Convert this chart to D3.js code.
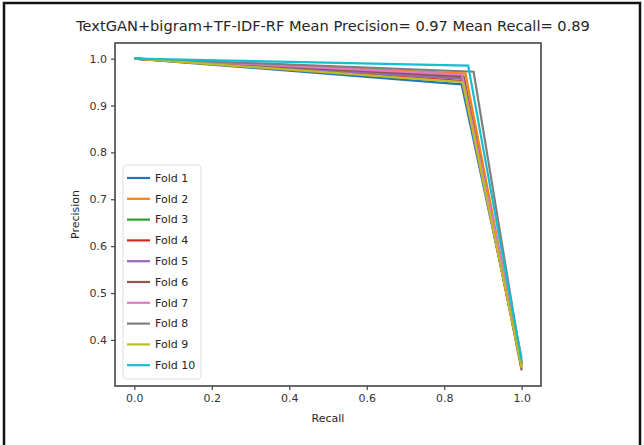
<!DOCTYPE html>
<html>
<head>
<meta charset="utf-8">
<script src="https://cdn.jsdelivr.net/npm/d3@7"></script>
<style>
  body { margin: 0; background: #fff; }
  svg text { font-family: "DejaVu Sans", sans-serif; fill: #262626; }
</style>
</head>
<body>
<div id="chart"></div>
<script>
// fold names and the three points of each PR curve (recall, precision)
const folds = ["Fold 1", "Fold 2", "Fold 3", "Fold 4", "Fold 5", "Fold 6", "Fold 7", "Fold 8", "Fold 9", "Fold 10"];
const kneeRecall = [0.845, 0.855, 0.85, 0.848, 0.845, 0.85, 0.846, 0.876, 0.848, 0.862];
const kneePrecision = [0.945, 0.968, 0.958, 0.952, 0.957, 0.962, 0.966, 0.972, 0.95, 0.985];
const endPrecision = [0.35, 0.345, 0.35, 0.34, 0.345, 0.335, 0.362, 0.35, 0.34, 0.357];
const foldColors = ["#1f77b4", "#ff7f0e", "#2ca02c", "#d62728", "#9467bd", "#8c564b", "#e377c2", "#7f7f7f", "#bcbd22", "#17becf"];
const xTicks = [0.0, 0.2, 0.4, 0.6, 0.8, 1.0];
const yTicks = [0.4, 0.5, 0.6, 0.7, 0.8, 0.9, 1.0];
const title = "TextGAN+bigram+TF-IDF-RF Mean Precision= 0.97 Mean Recall= 0.89";

const W = 644, H = 445;
const margin = {top: 43, right: 103, bottom: 59, left: 115};
const width = W - margin.left - margin.right,
      height = H - margin.top - margin.bottom;

const svg = d3.select("#chart").append("svg")
    .attr("width", W)
    .attr("height", H);

// outer frame of the picture
svg.append("rect")
    .attr("x", 4).attr("y", 3)
    .attr("width", 636).attr("height", 460)
    .attr("fill", "none")
    .attr("stroke", "#111")
    .attr("stroke-width", 2.5);

const g = svg.append("g")
    .attr("transform", `translate(${margin.left},${margin.top})`);

// matplotlib style 5% margins
const yMin = d3.min(endPrecision);
const x = d3.scaleLinear().domain([-0.05, 1.05]).range([0, width]);
const y = d3.scaleLinear().domain([yMin - 0.05 * (1 - yMin), 1 + 0.05 * (1 - yMin)]).range([height, 0]);

// x axis
const xAxis = g.append("g")
    .attr("transform", `translate(0,${height})`)
    .call(d3.axisBottom(x).tickValues(xTicks).tickFormat(d3.format(".1f")).tickSize(4).tickPadding(4));
// y axis
const yAxis = g.append("g")
    .call(d3.axisLeft(y).tickValues(yTicks).tickFormat(d3.format(".1f")).tickSize(4).tickPadding(4));

[xAxis, yAxis].forEach(a => {
  a.select(".domain").remove();
  a.selectAll("line").attr("stroke", "#444").attr("stroke-width", 1.2);
  a.selectAll("text").attr("font-size", "11px").style("fill", "#333");
});

// frame of the axes
g.append("rect")
    .attr("width", width).attr("height", height)
    .attr("fill", "none")
    .attr("stroke", "#444")
    .attr("stroke-width", 1.6);

// curves
const line = d3.line().x(d => x(d[0])).y(d => y(d[1]));
folds.forEach((f, i) => {
  const pts = [[0, 1], [kneeRecall[i], kneePrecision[i]], [1, endPrecision[i]]];
  g.append("path")
      .datum(pts)
      .attr("fill", "none")
      .attr("stroke", foldColors[i])
      .attr("stroke-width", 2.2)
      .attr("stroke-linejoin", "miter")
      .attr("d", line);
});

// title and labels
svg.append("text")
    .attr("x", margin.left + width / 2 + 5)
    .attr("y", 31)
    .attr("text-anchor", "middle")
    .attr("font-size", "14.6px")
    .text(title);

svg.append("text")
    .attr("x", margin.left + width / 2)
    .attr("y", 422)
    .attr("text-anchor", "middle")
    .attr("font-size", "11px")
    .text("Recall");

svg.append("text")
    .attr("transform", `translate(79,${margin.top + height / 2}) rotate(-90)`)
    .attr("text-anchor", "middle")
    .attr("font-size", "11px")
    .text("Precision");

// legend
const leg = g.append("g").attr("transform", "translate(8,122)");
leg.append("rect")
    .attr("width", 78).attr("height", 214)
    .attr("rx", 3)
    .attr("fill", "#fff")
    .attr("fill-opacity", 0.8)
    .attr("stroke", "#ddd");
folds.forEach((f, i) => {
  const row = leg.append("g").attr("transform", `translate(0,${13 + i * 20.8})`);
  row.append("line")
      .attr("x1", 4).attr("x2", 27)
      .attr("stroke", foldColors[i])
      .attr("stroke-width", 2.2);
  row.append("text")
      .attr("x", 32)
      .attr("dy", "0.35em")
      .attr("font-size", "11px")
      .text(f);
});
</script>
</body>
</html>
